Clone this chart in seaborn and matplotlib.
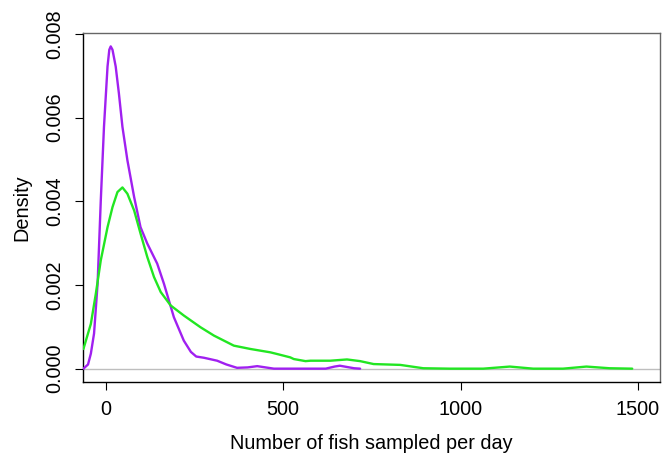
import numpy as np
import pandas as pd
import matplotlib
matplotlib.use("Agg")
import matplotlib.pyplot as plt
import seaborn as sns

# ==========================================
# DATA
# ==========================================
purple_x = [-63, -50, -42, -33, -23, -14, -5, 5, 10, 14, 19, 28, 37, 47, 61, 80, 98,
            117, 145, 164, 192, 220, 240, 255, 277, 314, 340, 370, 400, 427, 474,
            560, 620, 645, 660, 680, 700, 717]
purple_y = [0.0, 0.0001, 0.00036, 0.00084, 0.00203, 0.00402, 0.00578, 0.00722,
            0.00762, 0.0077, 0.00762, 0.00722, 0.00658, 0.00578, 0.00498, 0.0041,
            0.00338, 0.00299, 0.00251, 0.00203, 0.00123, 0.00067, 0.0004, 0.00029,
            0.00026, 0.00019, 0.0001, 0.00002, 0.00003, 0.00006, 0.0, 0.0, 0.0,
            0.00005, 0.00007, 0.00004, 0.00001, 0.0]

green_x = [-63, -42, -28, -14, 5, 19, 33, 47, 61, 80, 98, 117, 136, 155, 183, 220,
           267, 305, 361, 408, 436, 464, 483, 520, 530, 563, 577, 633, 680, 717,
           755, 830, 895, 970, 1064, 1139, 1205, 1289, 1355, 1420, 1484]
green_y = [0.00047, 0.00107, 0.00179, 0.00259, 0.00338, 0.00386, 0.00422, 0.00433,
           0.00418, 0.00378, 0.00323, 0.00267, 0.00219, 0.00183, 0.00151, 0.00127,
           0.00099, 0.00079, 0.00055, 0.00047, 0.00043, 0.00039, 0.00035, 0.00027,
           0.00023, 0.00018, 0.00019, 0.00019, 0.00022, 0.00018, 0.00011, 0.00009,
           0.00001, 0.0, 0.0, 0.00005, 0.0, 0.0, 0.00005, 0.00001, 0.0]

x_ticks = [0, 500, 1000, 1500]
y_ticks = [0.000, 0.002, 0.004, 0.006, 0.008]

df = pd.concat([
    pd.DataFrame({"x": purple_x, "density": purple_y, "group": "purple"}),
    pd.DataFrame({"x": green_x, "density": green_y, "group": "green"}),
])

# ==========================================
# PLOT
# ==========================================
sns.set_style("white")
plt.rcParams["font.family"] = ["Liberation Sans", "DejaVu Sans"]
plt.rcParams["text.color"] = "black"
plt.rcParams["axes.labelcolor"] = "black"
plt.rcParams["xtick.color"] = "black"
plt.rcParams["ytick.color"] = "black"

fig = plt.figure(figsize=(6.68, 4.54), dpi=100)
ax = fig.add_axes([0.1238, 0.1593, 0.8635, 0.768])

ax.axhline(0, color="#BEBEBE", lw=1.0, zorder=1)
sns.lineplot(data=df, x="x", y="density", hue="group",
             palette={"purple": "#A020F0", "green": "#22E622"},
             linewidth=1.7, legend=False, sort=False, ax=ax, zorder=3)

ax.set_xlim(-65, 1561)
ax.set_ylim(-0.000311, 0.00802)
ax.set_xticks(x_ticks)
ax.set_xticklabels([str(t) for t in x_ticks])
ax.set_yticks(y_ticks)
ax.set_yticklabels([f"{t:.3f}" for t in y_ticks], rotation=90, va="center")

ax.tick_params(axis="both", direction="out", length=6, width=0.8,
               color="black", labelsize=14.3, pad=7, left=True, bottom=True)

for side in ["left", "bottom"]:
    ax.spines[side].set_color("black")
    ax.spines[side].set_linewidth(1.0)
for side in ["top", "right"]:
    ax.spines[side].set_color("#666666")
    ax.spines[side].set_linewidth(1.0)

ax.set_xlabel("Number of fish sampled per day", fontsize=14.3, labelpad=11)
ax.set_ylabel("Density", fontsize=14.3, labelpad=10)

plt.savefig("out.png", dpi=100)
